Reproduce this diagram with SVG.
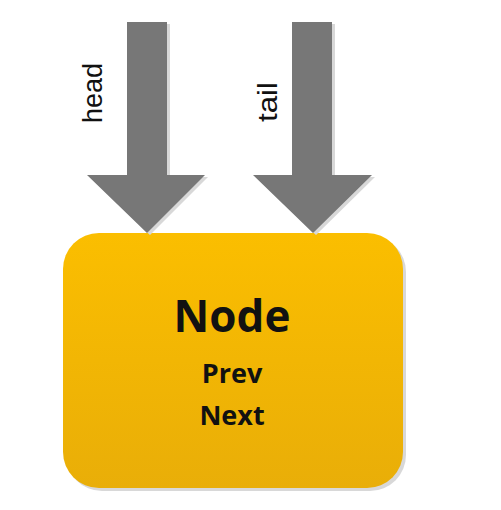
<svg xmlns="http://www.w3.org/2000/svg" width="501" height="510" viewBox="0 0 501 510">
<defs>
<linearGradient id="g" x1="0" y1="0" x2="0" y2="1">
<stop offset="0" stop-color="#FBBE00"/>
<stop offset="1" stop-color="#E9AE08"/>
</linearGradient>
<style>
.arrow{fill:#777777}
.shadow{fill:#d8d8d8}
.lbl{font-family:"Liberation Sans",Arial,sans-serif;font-size:27px;fill:#111}
.t{font-family:"Open Sans","Noto Sans",sans-serif;font-weight:bold;fill:#111;text-anchor:middle}
</style>
</defs>
<rect width="501" height="510" fill="#ffffff"/>
<g id="node">
<rect x="66" y="236" width="340" height="255" rx="36" class="shadow"/>
<rect x="63" y="233" width="340" height="255" rx="36" fill="url(#g)"/>
<text class="t" x="232" y="332" font-size="44">Node</text>
<text class="t" x="232" y="383" font-size="27">Prev</text>
<text class="t" x="232" y="425" font-size="27">Next</text>
</g>
<g id="connectors">
<g id="head">
<polygon class="shadow" points="130,24 170,24 170,177 208,177 150,235 90,177 130,177"/>
<polygon class="arrow" points="127,22 167,22 167,175 205,175 147,233 87,175 127,175"/>
<text class="lbl" transform="translate(102,93) rotate(-90)" text-anchor="middle" textLength="60" lengthAdjust="spacingAndGlyphs">head</text>
</g>
<g id="tail">
<polygon class="shadow" points="295,24 335,24 335,177 375,177 316,235 256,177 295,177"/>
<polygon class="arrow" points="292,22 332,22 332,175 372,175 313,233 253,175 292,175"/>
<text class="lbl" transform="translate(277,102) rotate(-90)" text-anchor="middle" textLength="40" lengthAdjust="spacingAndGlyphs">tail</text>
</g>
</g>
</svg>
